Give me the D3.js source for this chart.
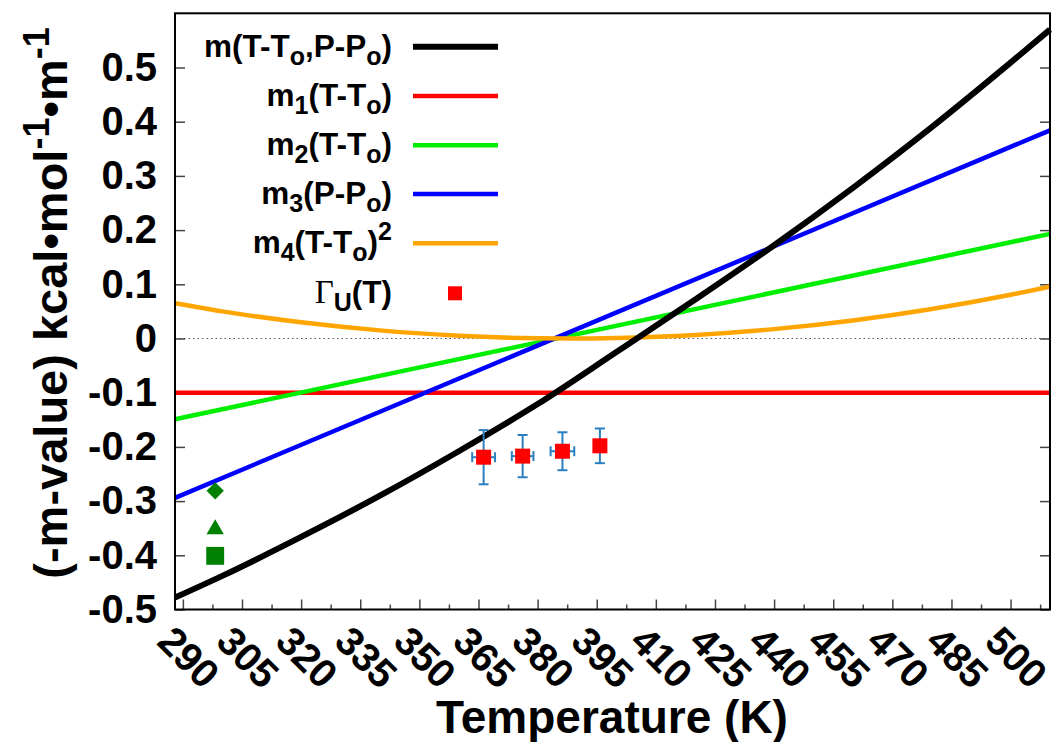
<!DOCTYPE html>
<html>
<head>
<meta charset="utf-8">
<script src="https://cdn.jsdelivr.net/npm/d3@7"></script>
<style>
  html, body { margin: 0; padding: 0; background: #fff; }
  svg { display: block; font-family: "Liberation Sans", Arial, sans-serif; font-weight: bold; }
</style>
</head>
<body>
<svg id="chart" width="1052" height="742"></svg>
<script>
// ---- data ----
const xTicks = [290, 305, 320, 335, 350, 365, 380, 395, 410, 425, 440, 455, 470, 485, 500];
const xMinorTicks = [297.5, 312.5, 327.5, 342.5, 357.5, 372.5, 387.5, 402.5, 417.5, 432.5, 447.5, 462.5, 477.5, 492.5, 507.5];
const yTicks = [-0.5, -0.4, -0.3, -0.2, -0.1, 0, 0.1, 0.2, 0.3, 0.4, 0.5];
const yTickLabels = ["-0.5", "-0.4", "-0.3", "-0.2", "-0.1", "0", "0.1", "0.2", "0.3", "0.4", "0.5"];

const tLine = [288, 510];
const vRed = [-0.1, -0.1];
const vGreen = [-0.149, 0.193];
const vBlue = [-0.294, 0.384];

const tOrange = [288, 300, 320, 340, 360, 380, 388, 400, 420, 440, 460, 480, 500, 510];
const vOrange = [0.065, 0.050, 0.030, 0.015, 0.005, 0.0004, 0, 0.001, 0.0065, 0.0173, 0.0332, 0.0543, 0.0806, 0.0957];

const tBlack = [288, 300, 320, 340, 360, 380, 400, 420, 440, 460, 480, 500, 510];
const vBlack = [-0.478, -0.438, -0.366, -0.290, -0.208, -0.121, -0.025, 0.072, 0.172, 0.278, 0.390, 0.509, 0.570];

const tGamma = [366.3, 376.2, 386.3, 395.8];
const vGamma = [-0.219, -0.217, -0.208, -0.198];
const tGammaErr = [2.9, 2.75, 3.0, 1.5];
const vGammaErr = [0.050, 0.039, 0.035, 0.032];

const tGreenPts = [298.2, 298.2, 298.2];
const vGreenPts = [-0.281, -0.352, -0.401];
const greenShapes = ["diamond", "triangle", "square"];

// ---- layout ----
const svg = d3.select("#chart");
const L = 175, R = 1050, T = 13.3, B = 609.5;
const x = d3.scaleLinear().domain([288, 510]).range([L, R]);
const y = d3.scaleLinear().domain([-0.5, 0.6]).range([B, T]);

// zero line
svg.append("line")
  .attr("x1", L).attr("x2", R).attr("y1", y(0)).attr("y2", y(0))
  .attr("stroke", "#555").attr("stroke-width", 1).attr("stroke-dasharray", "1.5,3");

// axes
const gy = svg.append("g").attr("transform", `translate(${L},0)`)
  .call(d3.axisLeft(y).tickValues(yTicks).tickFormat((d, i) => yTickLabels[i])
    .tickSizeInner(-10).tickSizeOuter(0).tickPadding(18));
gy.select(".domain").remove();
gy.selectAll("line").attr("stroke", "#444").attr("stroke-width", 1.5);
gy.selectAll("text").attr("font-size", 40).attr("font-weight", "bold").attr("fill", "#000")
  .attr("font-family", "Liberation Sans, Arial, sans-serif");

const gyr = svg.append("g").attr("transform", `translate(${R},0)`)
  .call(d3.axisRight(y).tickValues(yTicks).tickFormat("").tickSizeInner(-10).tickSizeOuter(0));
gyr.select(".domain").remove();
gyr.selectAll("line").attr("stroke", "#444").attr("stroke-width", 1.5);

const gx = svg.append("g").attr("transform", `translate(0,${B})`)
  .call(d3.axisBottom(x).tickValues(xTicks).tickFormat(d3.format("d")).tickSizeInner(-10).tickSizeOuter(0));
gx.select(".domain").remove();
gx.selectAll("line").attr("stroke", "#444").attr("stroke-width", 1.5);
gx.selectAll("text")
  .attr("font-size", 40).attr("font-weight", "bold").attr("fill", "#000")
  .attr("font-family", "Liberation Sans, Arial, sans-serif")
  .attr("y", 0).attr("dy", 0).attr("text-anchor", "start")
  .attr("transform", "translate(-28,34) rotate(45)");

const gxm = svg.append("g").attr("transform", `translate(0,${B})`)
  .call(d3.axisBottom(x).tickValues(xMinorTicks).tickFormat("").tickSizeInner(-5).tickSizeOuter(0));
gxm.select(".domain").remove();
gxm.selectAll("line").attr("stroke", "#444").attr("stroke-width", 1.5);

// curves
const line = d3.line().x(d => x(d[0])).y(d => y(d[1])).curve(d3.curveMonotoneX);
const plotG = svg.append("g");
function addCurve(ts, vs, color, w) {
  plotG.append("path").datum(ts.map((t, i) => [t, vs[i]]))
    .attr("d", line).attr("fill", "none").attr("stroke", color).attr("stroke-width", w)
    .attr("stroke-linejoin", "round");
}
addCurve(tLine, vRed, "#ff0000", 4.5);
addCurve(tLine, vGreen, "#00ee00", 4.5);
addCurve(tLine, vBlue, "#0000ff", 4.5);
addCurve(tOrange, vOrange, "#ffa500", 4.5);
addCurve(tBlack, vBlack, "#000000", 6);

// green markers
tGreenPts.forEach((t, i) => {
  const s = greenShapes[i];
  const g = svg.append("g").attr("transform", `translate(${x(t)},${y(vGreenPts[i])})`);
  if (s === "diamond") {
    g.append("path").attr("d", d3.symbol().type(d3.symbolSquare).size(150)())
      .attr("transform", "rotate(45)").attr("fill", "#008000");
  } else if (s === "triangle") {
    g.append("path").attr("d", d3.symbol().type(d3.symbolTriangle).size(130)())
      .attr("fill", "#008000");
  } else {
    g.append("path").attr("d", d3.symbol().type(d3.symbolSquare).size(320)())
      .attr("fill", "#008000");
  }
});

// gamma points with error bars
const errColor = "#2a7fc0";
tGamma.forEach((t, i) => {
  const cx = x(t), cy = y(vGamma[i]);
  const x0 = x(t - tGammaErr[i]), x1 = x(t + tGammaErr[i]);
  const y0 = y(vGamma[i] - vGammaErr[i]), y1 = y(vGamma[i] + vGammaErr[i]);
  const g = svg.append("g").attr("stroke", errColor).attr("stroke-width", 2);
  g.append("line").attr("x1", cx).attr("x2", cx).attr("y1", y0).attr("y2", y1);
  g.append("line").attr("x1", cx - 5).attr("x2", cx + 5).attr("y1", y0).attr("y2", y0);
  g.append("line").attr("x1", cx - 5).attr("x2", cx + 5).attr("y1", y1).attr("y2", y1);
  g.append("line").attr("x1", x0).attr("x2", x1).attr("y1", cy).attr("y2", cy);
  g.append("line").attr("x1", x0).attr("x2", x0).attr("y1", cy - 5).attr("y2", cy + 5);
  g.append("line").attr("x1", x1).attr("x2", x1).attr("y1", cy - 5).attr("y2", cy + 5);
  svg.append("rect").attr("x", cx - 7.5).attr("y", cy - 7.5).attr("width", 15).attr("height", 15)
    .attr("fill", "#ff0000");
});

// frame
svg.append("rect").attr("x", L).attr("y", T).attr("width", R - L).attr("height", B - T)
  .attr("fill", "none").attr("stroke", "#000").attr("stroke-width", 2);

// legend
const legRows = [46.7, 96, 145.3, 194, 243.3, 293.3];
const legColors = ["#000000", "#ff0000", "#00ee00", "#0000ff", "#ffa500"];
const legWidths = [6, 4.5, 4.5, 4.5, 4.5];
const legParts = [
  [["m(T-T"], ["o", "sub"], [",P-P"], ["o", "sub"], [")"]],
  [["m"], ["1", "sub"], ["(T-T"], ["o", "sub"], [")"]],
  [["m"], ["2", "sub"], ["(T-T"], ["o", "sub"], [")"]],
  [["m"], ["3", "sub"], ["(P-P"], ["o", "sub"], [")"]],
  [["m"], ["4", "sub"], ["(T-T"], ["o", "sub"], [")"], ["2", "sup"]],
  [["\u0393", "serif"], ["U", "sub"], ["(T)"]]
];
const legFont = 31.5;
legParts.forEach((parts, i) => {
  const ty = legRows[i] + 10;
  const txt = svg.append("text").attr("x", 392).attr("y", ty).attr("text-anchor", "end")
    .attr("font-size", legFont).attr("font-weight", "bold");
  let shift = 0;
  parts.forEach(([s, kind]) => {
    let target = 0, size = legFont, fam = null, wt = "bold";
    if (kind === "sub") { target = 8; size = 25; }
    if (kind === "sup") { target = -13; size = 25; }
    if (kind === "serif") { fam = "Liberation Serif, Times New Roman, serif"; wt = "normal"; size = 33; }
    const ts = txt.append("tspan").attr("dy", target - shift).attr("font-size", size).attr("font-weight", wt).text(s);
    if (fam) ts.attr("font-family", fam);
    shift = target;
  });
  if (i < 5) {
    svg.append("line").attr("x1", 413).attr("x2", 498).attr("y1", legRows[i]).attr("y2", legRows[i])
      .attr("stroke", legColors[i]).attr("stroke-width", legWidths[i]);
  } else {
    svg.append("rect").attr("x", 448).attr("y", legRows[i] - 7).attr("width", 14).attr("height", 14)
      .attr("fill", "#ff0000");
  }
});

// axis titles
svg.append("text").attr("x", 612).attr("y", 733).attr("text-anchor", "middle")
  .attr("font-size", 46).attr("font-weight", "bold").text("Temperature (K)");

const yt = svg.append("text").attr("transform", "translate(67,303) rotate(-90)")
  .attr("text-anchor", "middle").attr("font-size", 47).attr("font-weight", "bold");
yt.append("tspan").text("(-m-value) kcal\u2022mol");
yt.append("tspan").attr("dy", -18).attr("font-size", 36).text("-1");
yt.append("tspan").attr("dy", 18).text("\u2022m");
yt.append("tspan").attr("dy", -18).attr("font-size", 36).text("-1");
</script>
</body>
</html>
